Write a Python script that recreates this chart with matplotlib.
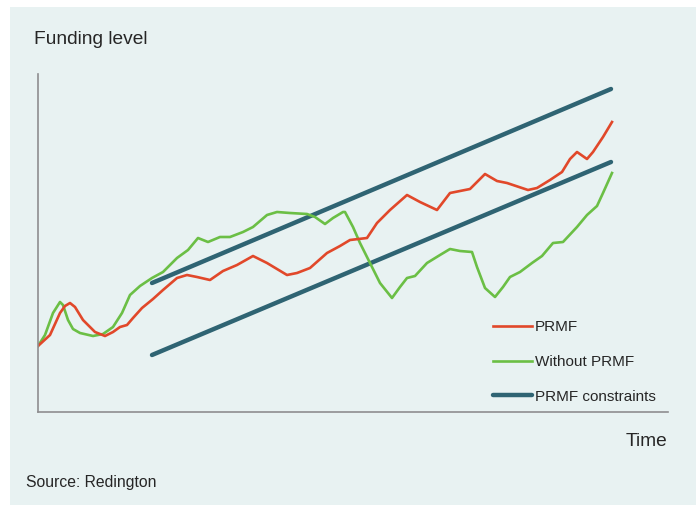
import matplotlib.pyplot as plt
from matplotlib.patches import Rectangle

plt.rcParams['font.family'] = ['Liberation Sans', 'DejaVu Sans']

# time steps and funding level (arbitrary units) for each path
prmf_t = [0, 12, 22, 27, 32, 37, 45, 57, 67, 75, 82, 89, 95, 104, 115, 125,
          139, 149, 159, 172, 185, 199, 215, 229, 249, 259, 272, 289, 302,
          312, 329, 339, 352, 369, 382, 399, 412, 432, 447, 459, 469, 490,
          499, 512, 524, 532, 539, 549, 555, 565, 574]
prmf_level = [66, 77, 99, 106, 109, 105, 92, 80, 76, 80, 85, 87, 94, 104, 113,
              122, 134, 137, 135, 132, 141, 147, 156, 149, 137, 139, 144, 159,
              166, 172, 174, 189, 202, 217, 210, 202, 219, 223, 238, 231, 229,
              222, 224, 232, 240, 253, 260, 253, 260, 275, 290]

no_prmf_t = [0, 7, 15, 22, 25, 30, 35, 42, 55, 65, 75, 84, 92, 102, 114, 125,
             139, 150, 160, 170, 182, 192, 205, 215, 229, 239, 252, 269, 277,
             287, 295, 305, 307, 315, 322, 329, 342, 354, 362, 369, 377, 389,
             402, 412, 422, 434, 439, 447, 457, 465, 472, 482, 494, 504, 515,
             525, 539, 549, 559, 565, 574]
no_prmf_level = [66, 77, 99, 110, 107, 92, 83, 79, 76, 78, 85, 99, 117, 126,
                 134, 140, 154, 162, 174, 170, 175, 175, 180, 185, 197, 200,
                 199, 198, 195, 188, 194, 200, 200, 185, 169, 155, 129, 114,
                 125, 134, 136, 149, 157, 163, 161, 160, 145, 124, 115, 125,
                 135, 140, 149, 156, 169, 170, 185, 197, 206, 219, 239]

# corridor bounds (start and end of the constraint band)
band_t = [114, 573]
band_upper = [129, 323]
band_lower = [57, 250]

RED = '#e1482a'
GREEN = '#6bbf45'
TEAL = '#2f6473'
BG = '#e8f2f2'
TEXT = '#262626'

fig = plt.figure(figsize=(6.96, 5.05), dpi=100)
fig.patch.set_facecolor('white')
fig.patches.append(Rectangle((10 / 696, 0), 686 / 696, 498 / 505,
                             transform=fig.transFigure, facecolor=BG,
                             edgecolor='none', zorder=-10))

ax = fig.add_axes([38 / 696, 1 - 412 / 505, 630 / 696, 338 / 505])
ax.set_facecolor('none')

ax.plot(band_t, band_upper, color=TEAL, lw=3.2, solid_capstyle='round',
        label='PRMF constraints')
ax.plot(band_t, band_lower, color=TEAL, lw=3.2, solid_capstyle='round')
ax.plot(no_prmf_t, no_prmf_level, color=GREEN, lw=1.9,
        solid_joinstyle='round', label='Without PRMF')
ax.plot(prmf_t, prmf_level, color=RED, lw=1.9,
        solid_joinstyle='round', label='PRMF')

ax.set_xlim(0, 630)
ax.set_ylim(0, 338)
ax.set_xticks([])
ax.set_yticks([])
for side in ['top', 'right']:
    ax.spines[side].set_visible(False)
for side in ['left', 'bottom']:
    ax.spines[side].set_color('#8e8e90')
    ax.spines[side].set_linewidth(1.2)

handles, labels = ax.get_legend_handles_labels()
order = [2, 1, 0]
ax.legend([handles[i] for i in order], [labels[i] for i in order],
          loc='center left', bbox_to_anchor=(493 / 696, 1 - 362 / 505),
          bbox_transform=fig.transFigure, frameon=False, borderpad=0,
          borderaxespad=0, handlelength=2.55, handletextpad=0.2,
          labelspacing=1.36, prop={'size': 11}, labelcolor=TEXT)

fig.text(34 / 696, 1 - 40 / 505, 'Funding level', fontsize=13.8,
         color=TEXT, va='center', ha='left')
fig.text(667 / 696, 1 - 441 / 505, 'Time', fontsize=13.8,
         color=TEXT, va='center', ha='right')
fig.text(26 / 696, 1 - 483 / 505, 'Source: Redington', fontsize=11.3,
         color=TEXT, va='center', ha='left')

plt.savefig('out.png', dpi=100, facecolor=fig.get_facecolor())
